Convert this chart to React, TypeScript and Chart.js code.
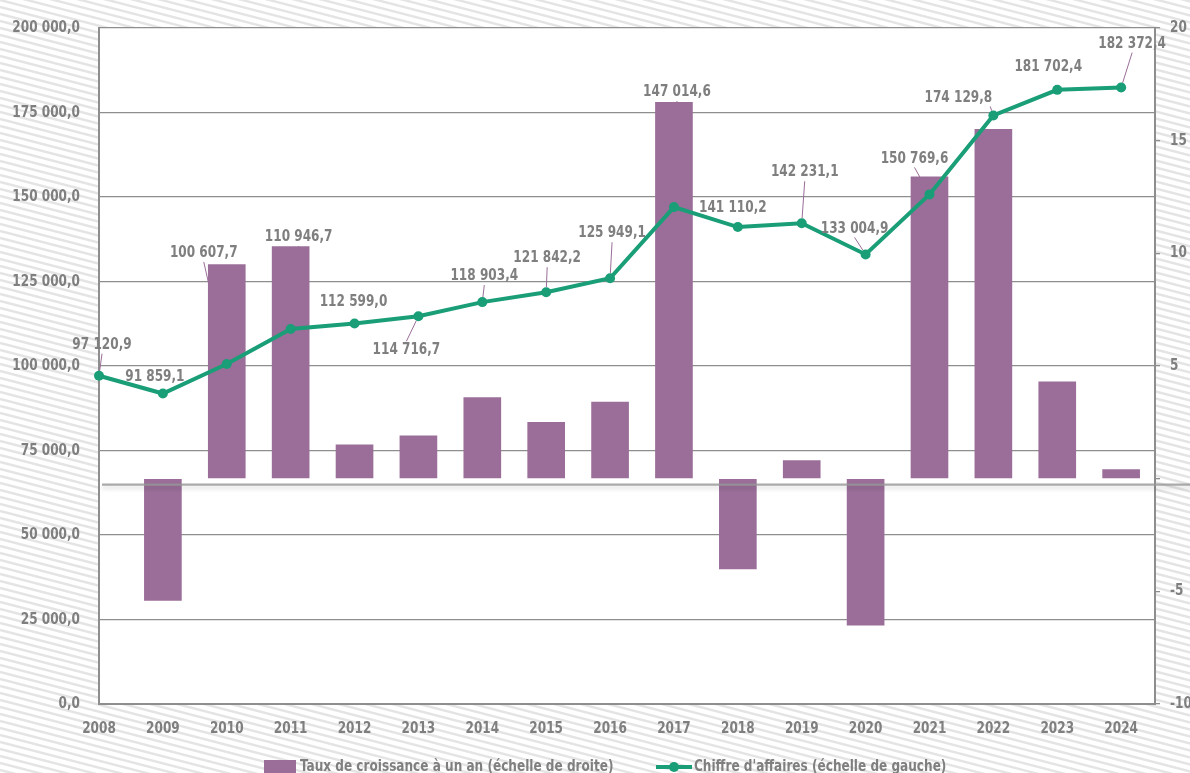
import React, { useEffect, useRef } from 'react';
import { Chart, registerables } from 'chart.js';

Chart.register(...registerables);

// ---------- data ----------
const YEARS = [2008, 2009, 2010, 2011, 2012, 2013, 2014, 2015, 2016, 2017, 2018, 2019, 2020, 2021, 2022, 2023, 2024];
const CHIFFRE_AFFAIRES = [
  97120.9, 91859.1, 100607.7, 110946.7, 112599.0, 114716.7, 118903.4, 121842.2, 125949.1,
  147014.6, 141110.2, 142231.1, 133004.9, 150769.6, 174129.8, 181702.4, 182372.4,
];
const TAUX_CROISSANCE: (number | null)[] = [
  null, -5.4, 9.5, 10.3, 1.5, 1.9, 3.6, 2.5, 3.4, 16.7, -4.0, 0.8, -6.5, 13.4, 15.5, 4.3, 0.4,
];
const LEFT_TICKS = [0, 25000, 50000, 75000, 100000, 125000, 150000, 175000, 200000];
const RIGHT_TICKS = [-10, -5, 0, 5, 10, 15, 20];
const LABEL_TAUX = 'Taux de croissance à un an (échelle de droite)';
const LABEL_CA = "Chiffre d'affaires (échelle de gauche)";

// ---------- label layout (pixel offsets from each point) ----------
const LABEL_OFFSETS: [number, number][] = [
  [3, -31], [-8, -17], [-23, -111], [8, -92], [-1, -22], [-12, 34], [2, -26], [1, -34], [2, -45],
  [3, -115], [-5, -19], [3, -51], [-11, -26], [-15, -36], [-35, -18], [-9, -23], [11, -44],
];
const LEADERS = [true, false, true, true, false, true, true, true, true, true, false, true, true, true, true, false, true];

// ---------- styles ----------
const PURPLE = '#9a6e99';
const GREEN = '#1a9e77';
const GREY_TEXT = '#7f7f7f';
const GRID = '#8e8e8e';
const FONT_FAMILY = "'Liberation Sans Narrow', 'DejaVu Sans Condensed', 'Arial Narrow', sans-serif";
const FONT_CSS = `bold 16px ${FONT_FAMILY}`;
const SX = 0.84; // horizontal condensation of text

function frNumber(v: number, d = 1): string {
  const s = Math.abs(v).toFixed(d);
  const [i, f] = s.split('.');
  const ii = i.replace(/\B(?=(\d{3})+(?!\d))/g, ' ');
  return (v < 0 ? '-' : '') + ii + (d > 0 ? ',' + f : '');
}

function drawText(ctx: CanvasRenderingContext2D, text: string, x: number, y: number, align: CanvasTextAlign) {
  ctx.save();
  ctx.translate(x, y);
  ctx.scale(SX, 1);
  ctx.font = FONT_CSS;
  ctx.textAlign = align;
  ctx.textBaseline = 'middle';
  ctx.fillText(text, 0, 0);
  ctx.restore();
}

function textWidth(ctx: CanvasRenderingContext2D, text: string) {
  ctx.save();
  ctx.font = FONT_CSS;
  const w = ctx.measureText(text).width * SX;
  ctx.restore();
  return w;
}

const backgroundPlugin = {
  id: 'stripedBackground',
  beforeDraw(chart: any) {
    const { ctx, width, height, chartArea: a } = chart;
    ctx.save();
    ctx.fillStyle = '#ffffff';
    ctx.fillRect(0, 0, width, height);
    ctx.strokeStyle = '#e4e4e4';
    ctx.lineWidth = 2.4;
    const slope = 0.26;
    for (let y0 = -width * slope - 10; y0 < height + 10; y0 += 7) {
      ctx.beginPath();
      ctx.moveTo(0, y0);
      ctx.lineTo(width, y0 + width * slope);
      ctx.stroke();
    }
    ctx.fillStyle = '#ffffff';
    ctx.fillRect(a.left, a.top, a.right - a.left, a.bottom - a.top);
    ctx.restore();
  },
};

const leaderPlugin = {
  id: 'leaders',
  beforeDatasetsDraw(chart: any) {
    const { ctx } = chart;
    const meta = chart.getDatasetMeta(0);
    ctx.save();
    ctx.strokeStyle = PURPLE;
    ctx.lineWidth = 1;
    meta.data.forEach((p: any, i: number) => {
      if (!LEADERS[i]) return;
      const [dx, dy] = LABEL_OFFSETS[i];
      const tx = p.x + dx;
      const ty = p.y + dy;
      const hw = textWidth(ctx, frNumber(CHIFFRE_AFFAIRES[i])) / 2;
      let sx = tx;
      if (p.x > tx + hw) sx = tx + hw - 2;
      else if (p.x < tx - hw) sx = tx - hw + 2;
      const sy = dy < 0 ? ty + 9 : ty - 9;
      const ex = p.x, ey = p.y;
      const len = Math.hypot(ex - sx, ey - sy);
      if (len < 6) return;
      const r = 5;
      const fx = ex - ((ex - sx) / len) * r;
      const fy = ey - ((ey - sy) / len) * r;
      ctx.beginPath();
      ctx.moveTo(sx, sy);
      ctx.lineTo(fx, fy);
      ctx.stroke();
    });
    ctx.restore();
  },
};

const zeroLinePlugin = {
  id: 'zeroLine',
  afterDatasetDraw(chart: any, args: any) {
    if (args.index !== 1) return;
    const { ctx, width, chartArea: a } = chart;
    const y = chart.scales.y1.getPixelForValue(0) + 6;
    ctx.save();
    ctx.shadowColor = 'rgba(0,0,0,0.2)';
    ctx.shadowBlur = 4;
    ctx.shadowOffsetY = 3;
    ctx.strokeStyle = 'rgba(150,150,150,0.8)';
    ctx.lineWidth = 2.2;
    ctx.beginPath();
    ctx.moveTo(a.left + 3, y);
    ctx.lineTo(width, y);
    ctx.stroke();
    ctx.restore();
  },
};

const labelPlugin = {
  id: 'pointLabels',
  afterDatasetsDraw(chart: any) {
    const { ctx } = chart;
    const meta = chart.getDatasetMeta(0);
    ctx.save();
    ctx.fillStyle = GREY_TEXT;
    meta.data.forEach((p: any, i: number) => {
      const [dx, dy] = LABEL_OFFSETS[i];
      drawText(ctx, frNumber(CHIFFRE_AFFAIRES[i]), p.x + dx, p.y + dy, 'center');
    });
    ctx.restore();
  },
};

const axisLabelPlugin = {
  id: 'axisLabels',
  afterDraw(chart: any) {
    const { ctx, scales } = chart;
    ctx.save();
    ctx.fillStyle = GREY_TEXT;
    const y = scales.y, y1 = scales.y1, x = scales.x;
    y.ticks.forEach((t: any) => {
      drawText(ctx, frNumber(t.value), y.right - 19, y.getPixelForValue(t.value), 'right');
    });
    y1.ticks.forEach((t: any) => {
      if (t.value === 0) return;
      drawText(ctx, String(t.value), y1.left + 15, y1.getPixelForValue(t.value), 'left');
    });
    x.ticks.forEach((t: any) => {
      drawText(ctx, String(t.value), x.getPixelForValue(t.value), x.top + 25, 'center');
    });
    ctx.restore();
  },
};

const legendPlugin = {
  id: 'customLegend',
  afterDraw(chart: any) {
    const { ctx } = chart;
    const y = 767;
    ctx.save();
    // bar item
    ctx.fillStyle = PURPLE;
    ctx.fillRect(264, y - 7, 32, 15);
    ctx.fillStyle = GREY_TEXT;
    drawText(ctx, chart.data.datasets[1].label, 300, y, 'left');
    // line item
    ctx.strokeStyle = GREEN;
    ctx.lineWidth = 4;
    ctx.beginPath();
    ctx.moveTo(656, y);
    ctx.lineTo(692, y);
    ctx.stroke();
    ctx.fillStyle = GREEN;
    ctx.beginPath();
    ctx.arc(674, y, 5, 0, Math.PI * 2);
    ctx.fill();
    ctx.fillStyle = GREY_TEXT;
    drawText(ctx, chart.data.datasets[0].label, 694, y, 'left');
    ctx.restore();
  },
};

export default function App() {
  const ref = useRef<HTMLCanvasElement>(null);

  useEffect(() => {
    if (!ref.current) return;
    const chart = new Chart(ref.current, {
      type: 'bar',
      data: {
        datasets: [
          {
            type: 'line',
            label: LABEL_CA,
            data: YEARS.map((x, i) => ({ x, y: CHIFFRE_AFFAIRES[i] })),
            yAxisID: 'y',
            borderColor: GREEN,
            backgroundColor: GREEN,
            borderWidth: 4,
            pointRadius: 5,
            pointBackgroundColor: GREEN,
            pointBorderWidth: 0,
            tension: 0,
            order: 0,
            clip: false,
          } as any,
          {
            type: 'bar',
            label: LABEL_TAUX,
            data: YEARS.map((x, i) => ({ x, y: TAUX_CROISSANCE[i] })),
            yAxisID: 'y1',
            backgroundColor: PURPLE,
            barThickness: 37,
            order: 1,
          } as any,
        ],
      },
      options: {
        responsive: false,
        animation: false,
        events: [],
        layout: { padding: { top: 28, bottom: 46, left: 0, right: 0 } },
        plugins: { legend: { display: false }, tooltip: { enabled: false } },
        scales: {
          x: {
            type: 'linear',
            offset: false,
            min: 2008,
            max: 2024.53,
            afterBuildTicks: (s: any) => {
              s.ticks = YEARS.map((v) => ({ value: v }));
            },
            afterFit: (s: any) => {
              s.height = 40;
            },
            ticks: { display: false },
            grid: { display: false },
            border: { display: true, color: GRID, width: 2 },
          },
          y: {
            position: 'left',
            min: 0,
            max: 200000,
            afterBuildTicks: (s: any) => {
              s.ticks = LEFT_TICKS.map((v) => ({ value: v }));
            },
            afterFit: (s: any) => {
              s.width = 99;
            },
            ticks: { display: false },
            grid: { color: GRID, lineWidth: 1.3, drawTicks: false },
            border: { color: GRID, width: 2 },
          },
          y1: {
            position: 'right',
            min: -10,
            max: 20,
            afterBuildTicks: (s: any) => {
              s.ticks = RIGHT_TICKS.map((v) => ({ value: v }));
            },
            afterFit: (s: any) => {
              s.width = 45;
            },
            ticks: { display: false },
            grid: { drawOnChartArea: false, color: GRID, tickLength: 5, lineWidth: 1.3 },
            border: { color: GRID, width: 2 },
          },
        },
      } as any,
      plugins: [backgroundPlugin, leaderPlugin, zeroLinePlugin, labelPlugin, axisLabelPlugin, legendPlugin],
    });
    return () => chart.destroy();
  }, []);

  return (
    <div
      style={{
        position: 'fixed',
        left: 0,
        top: 0,
        width: 1190,
        height: 773,
        overflow: 'hidden',
        background: '#fff',
      }}
    >
      <canvas ref={ref} width={1200} height={790} style={{ display: 'block', width: 1200, height: 790 }} />
    </div>
  );
}
